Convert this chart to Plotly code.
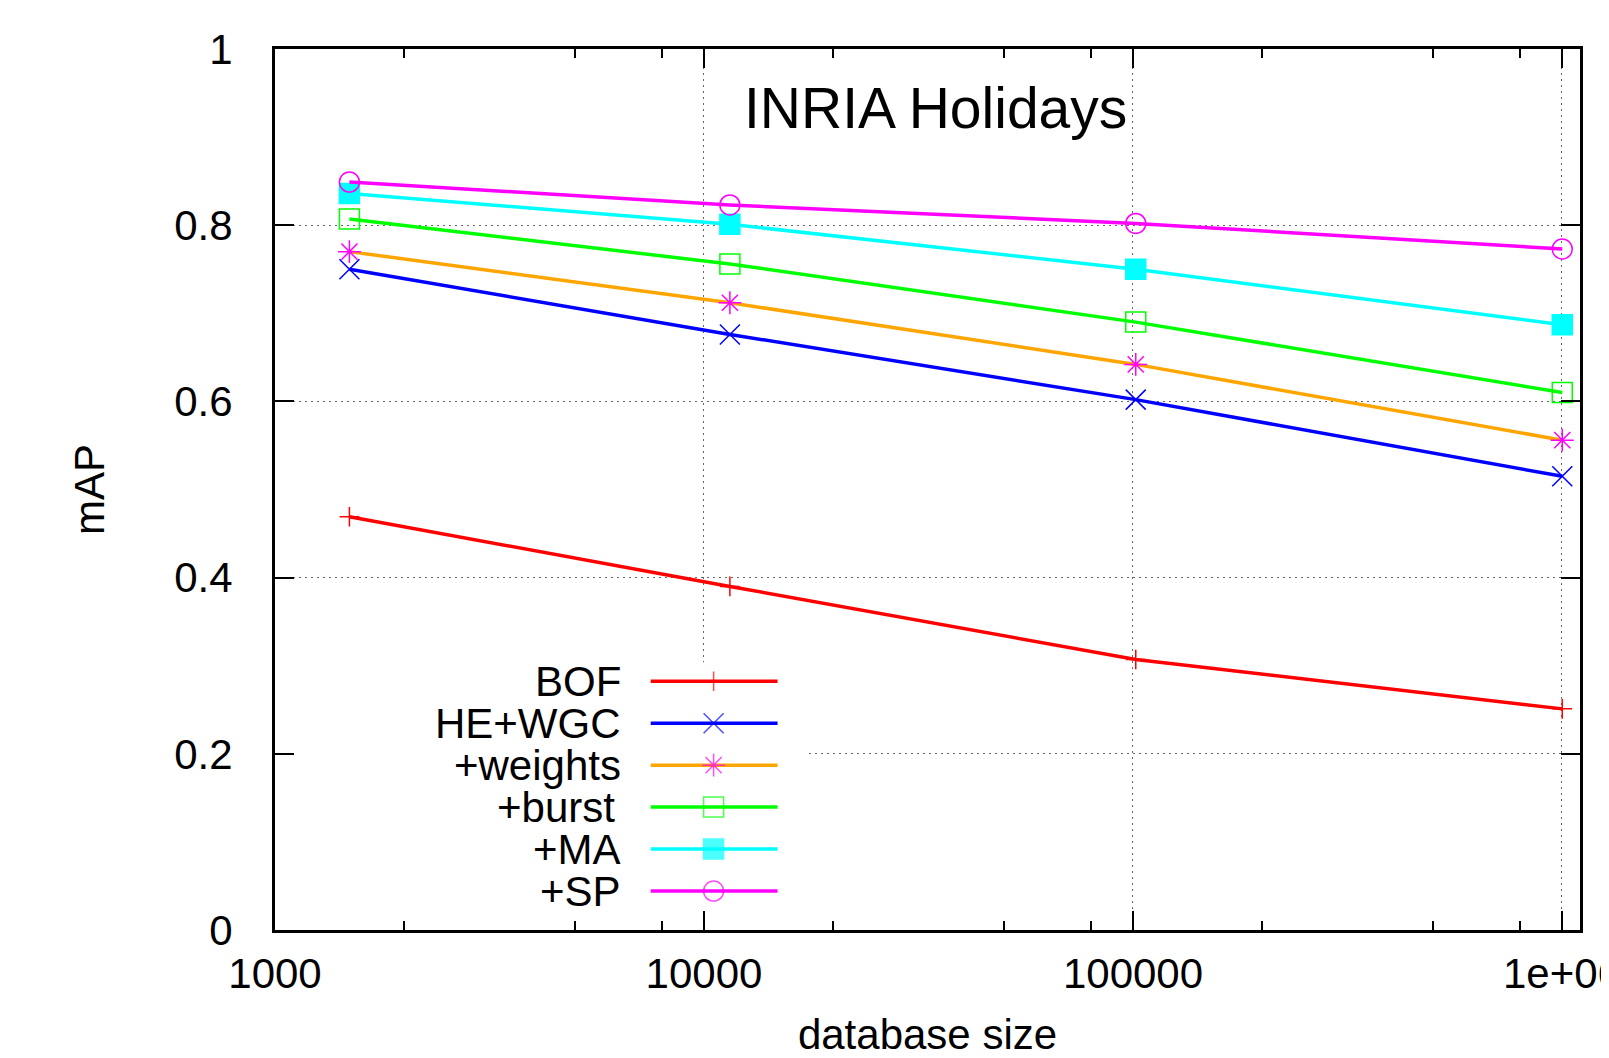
import math
import plotly.graph_objects as go

# ---- data ----
db_size = [1491, 11491, 101491, 1001491]
series_names = ["BOF", "HE+WGC", "+weights", "+burst", "+MA", "+SP"]
bof      = [0.469, 0.390, 0.307, 0.251]
he_wgc   = [0.750, 0.676, 0.602, 0.515]
weights  = [0.770, 0.712, 0.642, 0.556]
burst    = [0.807, 0.756, 0.690, 0.610]
ma       = [0.836, 0.801, 0.750, 0.687]
sp       = [0.849, 0.823, 0.802, 0.773]
x_tickvals = [1000, 10000, 100000, 1000000]
x_ticktext = ["1000", "10000", "100000", "1e+06"]
x_minor = [2000, 5000, 8000, 20000, 50000, 80000, 200000, 500000, 800000]
y_tickvals = [0, 0.2, 0.4, 0.6, 0.8, 1.0]
y_ticktext = ["0", "0.2", "0.4", "0.6", "0.8", "1"]

values = [bof, he_wgc, weights, burst, ma, sp]
line_colors = ["#ff0000", "#0000ff", "#ffa500", "#00ff00", "#00ffff", "#ff00ff"]
marker_colors = ["#ff0000", "#0000ff", "#ff00ff", "#00ff00", "#00ffff", "#ff00ff"]
symbols = ["cross-thin-open", "x-thin-open", "asterisk-open", "square-open", "square", "circle-open"]
msizes = [14, 20, 19, 20, 20, 20]

FONT = "Liberation Sans, Arial, sans-serif"
XR = [3, 6.042]

def xfrac(f):
    return 10 ** (XR[0] + f * (XR[1] - XR[0]))

fig = go.Figure()

for name, vals, lc, mc, sym, ms in zip(series_names, values, line_colors, marker_colors, symbols, msizes):
    fig.add_trace(go.Scatter(
        x=db_size, y=vals, name=name, mode="lines+markers",
        line=dict(color=lc, width=3.5),
        marker=dict(symbol=sym, size=ms, color=mc, line=dict(color=mc, width=1.5)),
        showlegend=False,
    ))

# ---- legend (gnuplot style: text left, key sample right) ----
key_rows = [0.2823, 0.2347, 0.1871, 0.1395, 0.0918, 0.0442]
kx0, kxm, kx1 = 0.2879, 0.3361, 0.3851
for i, (name, lc, mc, sym, ms) in enumerate(zip(series_names, line_colors, marker_colors, symbols, msizes)):
    yk = key_rows[i]
    fig.add_trace(go.Scatter(
        x=[xfrac(kx0), xfrac(kxm), xfrac(kx1)], y=[yk, yk, yk], mode="lines+markers",
        line=dict(color=lc, width=3.5),
        marker=dict(symbol=sym, size=[0, ms, 0], color=mc, line=dict(color=mc, width=1.5)),
        showlegend=False, hoverinfo="skip",
    ))
    fig.add_annotation(
        x=0.2657, xref="paper", y=yk, yref="y", text=name, showarrow=False,
        xanchor="right", yanchor="middle", xshift=(-6 if name == "+burst" else 0),
        font=dict(family=FONT, size=42, color="black"), borderpad=0,
    )

# white key box hiding grid
fig.add_shape(type="rect", xref="x", yref="y", x0=xfrac(0.005), x1=xfrac(0.4066),
              y0=0.021, y1=0.304, fillcolor="white", line=dict(width=0), layer="between")

fig.add_annotation(x=0.506, xref="paper", y=0.933, yref="paper", text="INRIA Holidays",
                   showarrow=False, xanchor="center", yanchor="middle",
                   font=dict(family=FONT, size=57, color="black"))

fig.update_layout(
    width=1601, height=1050,
    margin=dict(l=267, r=29, t=41, b=128),
    paper_bgcolor="white", plot_bgcolor="white",
    font=dict(family=FONT, size=42, color="black"),
    showlegend=False,
)
fig.update_xaxes(
    type="log", range=XR, tickmode="array", tickvals=x_tickvals, ticktext=x_ticktext,
    ticks="inside", ticklen=19, tickwidth=2, tickcolor="black",
    showline=True, linewidth=3, linecolor="black", mirror="ticks",
    showgrid=True, gridcolor="#666666", griddash="2px,4px", gridwidth=1,
    minor=dict(tickvals=x_minor, ticks="inside", ticklen=9, tickwidth=2, tickcolor="black", showgrid=False),
    tickfont=dict(family=FONT, size=42, color="black"), ticklabelstandoff=5,
    ticklabeloverflow="allow",
    title=dict(text="database size", font=dict(family=FONT, size=42, color="black"), standoff=35),
    zeroline=False, automargin=False,
)
fig.update_yaxes(
    range=[0, 1], tickmode="array", tickvals=y_tickvals, ticktext=y_ticktext,
    ticks="inside", ticklen=19, tickwidth=2, tickcolor="black",
    showline=True, linewidth=3, linecolor="black", mirror="ticks",
    showgrid=True, gridcolor="#666666", griddash="2px,4px", gridwidth=1,
    tickfont=dict(family=FONT, size=42, color="black"), ticklabelstandoff=31,
    title=dict(text="mAP", font=dict(family=FONT, size=42, color="black"), standoff=57),
    zeroline=False, automargin=False,
)

fig.write_html("out.html")
